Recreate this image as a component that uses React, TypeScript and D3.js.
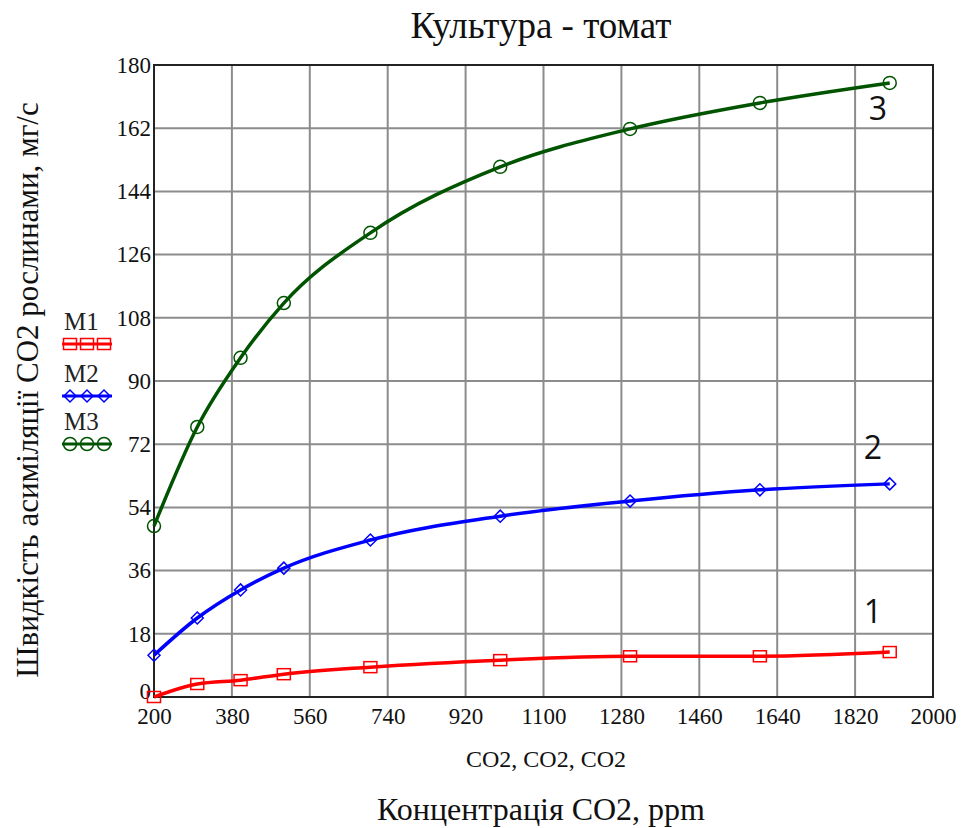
import React, { useEffect, useRef } from "react";
import * as d3 from "d3";

// CO2 concentration, ppm
const co2 = [200, 300, 400, 500, 700, 1000, 1300, 1600, 1900];
// assimilation rate, mg/s
const m1 = [0, 3.7, 4.8, 6.5, 8.5, 10.5, 11.6, 11.6, 12.8];
const m2 = [11.9, 22.5, 30.5, 36.7, 44.7, 51.5, 55.8, 59, 60.7];
const m3 = [48.7, 76.9, 96.6, 112.2, 132.2, 151, 161.8, 169.2, 174.9];

const xTicks = [200, 380, 560, 740, 920, 1100, 1280, 1460, 1640, 1820, 2000];
const yTicks = [0, 18, 36, 54, 72, 90, 108, 126, 144, 162, 180];

const seriesNames = ["M1", "M2", "M3"];
const curveLabels = ["1", "2", "3"];

const W = 967;
const H = 828;

export default function App() {
  const ref = useRef<SVGSVGElement | null>(null);

  useEffect(() => {
    document.body.style.margin = "0";
    const svg = d3.select(ref.current);
    svg.selectAll("*").remove();

    const left = 154;
    const right = 933;
    const top = 65;
    const bottom = 697;
    const serif = "'Liberation Serif', 'Times New Roman', serif";

    const x = d3.scaleLinear().domain([200, 2000]).range([left, right]);
    const y = d3.scaleLinear().domain([0, 180]).range([bottom, top]);

    // grid
    const grid = svg.append("g");
    grid
      .selectAll("line.v")
      .data(xTicks.slice(1, -1))
      .join("line")
      .attr("x1", (d) => x(d))
      .attr("x2", (d) => x(d))
      .attr("y1", top)
      .attr("y2", bottom)
      .attr("stroke", "#8c8c8c")
      .attr("stroke-width", 2);
    grid
      .selectAll("line.h")
      .data(yTicks.slice(1, -1))
      .join("line")
      .attr("x1", left)
      .attr("x2", right)
      .attr("y1", (d) => y(d))
      .attr("y2", (d) => y(d))
      .attr("stroke", "#8c8c8c")
      .attr("stroke-width", 2);

    // frame
    svg
      .append("rect")
      .attr("x", left)
      .attr("y", top)
      .attr("width", right - left)
      .attr("height", bottom - top)
      .attr("fill", "none")
      .attr("stroke", "#222")
      .attr("stroke-width", 2);

    // tick labels
    const xAxis = svg
      .append("g")
      .attr("transform", `translate(0,${bottom})`)
      .call(d3.axisBottom(x).tickValues(xTicks).tickSize(0).tickPadding(11).tickFormat(d3.format("d")));
    xAxis.select(".domain").remove();
    xAxis.selectAll("text").attr("font-family", serif).attr("font-size", 23).attr("fill", "#111");

    const yAxis = svg
      .append("g")
      .attr("transform", `translate(${left},0)`)
      .call(d3.axisLeft(y).tickValues(yTicks).tickSize(0).tickPadding(3).tickFormat(d3.format("d")));
    yAxis.select(".domain").remove();
    yAxis.selectAll("text").attr("font-family", serif).attr("font-size", 23).attr("fill", "#111");
    // the corner "0" sits a little above the x labels
    yAxis
      .selectAll("text")
      .filter((d: any) => d === 0)
      .attr("dy", "0.05em");

    const series = [
      { vals: m1, color: "#ff0000", marker: "square" },
      { vals: m2, color: "#0000ff", marker: "diamond" },
      { vals: m3, color: "#005400", marker: "circle" },
    ];

    const line = d3
      .line<number>()
      .x((_, i) => x(co2[i]))
      .y((d) => y(d))
      .curve(d3.curveMonotoneX);

    const drawMarker = (g: any, cx: number, cy: number, type: string, color: string) => {
      if (type === "square") {
        g.append("rect")
          .attr("x", cx - 6.5)
          .attr("y", cy - 5.5)
          .attr("width", 13)
          .attr("height", 11)
          .attr("fill", "none")
          .attr("stroke", color)
          .attr("stroke-width", 1.5);
      } else if (type === "diamond") {
        g.append("path")
          .attr("d", `M${cx - 6},${cy}L${cx},${cy - 6}L${cx + 6},${cy}L${cx},${cy + 6}Z`)
          .attr("fill", "none")
          .attr("stroke", color)
          .attr("stroke-width", 1.5);
      } else {
        g.append("circle")
          .attr("cx", cx)
          .attr("cy", cy)
          .attr("r", 6.5)
          .attr("fill", "none")
          .attr("stroke", color)
          .attr("stroke-width", 1.5);
      }
    };

    series.forEach((s) => {
      const g = svg.append("g");
      g.append("path")
        .attr("d", line(s.vals))
        .attr("fill", "none")
        .attr("stroke", s.color)
        .attr("stroke-width", 3.5);
      s.vals.forEach((v, i) => drawMarker(g, x(co2[i]), y(v), s.marker, s.color));
    });

    // curve numbers
    const numPos = [
      { x: 873, y: 623 },
      { x: 873, y: 459 },
      { x: 878, y: 120 },
    ];
    curveLabels.forEach((t, i) => {
      svg
        .append("text")
        .attr("x", numPos[i].x)
        .attr("y", numPos[i].y)
        .attr("text-anchor", "middle")
        .attr("font-family", "'Open Sans', 'DejaVu Sans', sans-serif")
        .attr("font-size", 32)
        .attr("fill", "#111")
        .text(t);
    });

    // legend
    const legendBase = [330, 382, 430];
    seriesNames.forEach((name, i) => {
      const ly = legendBase[i];
      svg
        .append("text")
        .attr("x", 64)
        .attr("y", ly)
        .attr("font-family", serif)
        .attr("font-size", 25)
        .attr("fill", "#222")
        .text(name);
      const g = svg.append("g");
      const sy = ly + 14;
      g.append("line")
        .attr("x1", 62)
        .attr("x2", 112)
        .attr("y1", sy)
        .attr("y2", sy)
        .attr("stroke", series[i].color)
        .attr("stroke-width", 3);
      [70, 87, 104].forEach((cx) => drawMarker(g, cx, sy, series[i].marker, series[i].color));
    });

    // title and axis titles
    svg
      .append("text")
      .attr("x", 541)
      .attr("y", 38)
      .attr("text-anchor", "middle")
      .attr("font-family", serif)
      .attr("font-size", 37)
      .attr("fill", "#111")
      .text("Культура - томат");

    svg
      .append("text")
      .attr("x", 546)
      .attr("y", 767)
      .attr("text-anchor", "middle")
      .attr("font-family", serif)
      .attr("font-size", 24)
      .attr("fill", "#111")
      .text("CO2, CO2, CO2");

    svg
      .append("text")
      .attr("x", 541)
      .attr("y", 820)
      .attr("text-anchor", "middle")
      .attr("font-family", serif)
      .attr("font-size", 32)
      .attr("fill", "#111")
      .text("Концентрація CO2, ppm");

    svg
      .append("text")
      .attr("transform", `translate(38,390) rotate(-90)`)
      .attr("text-anchor", "middle")
      .attr("font-family", serif)
      .attr("font-size", 31)
      .attr("fill", "#111")
      .text("Швидкість асиміляції CO2 рослинами, мг/с");
  }, []);

  return <svg ref={ref} width={W} height={H} style={{ display: "block", background: "#fff" }} />;
}
